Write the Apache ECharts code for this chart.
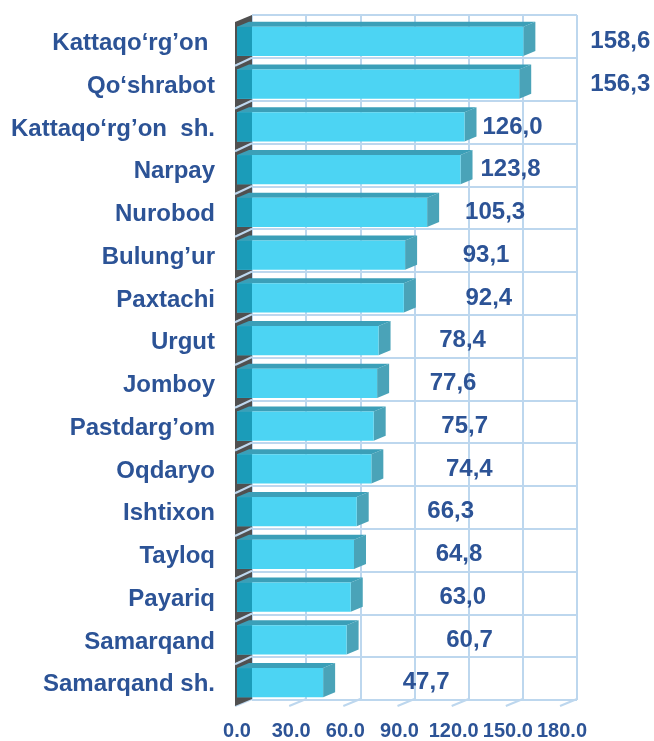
<!DOCTYPE html>
<html>
<head>
<meta charset="utf-8">
<script src="https://cdn.jsdelivr.net/npm/echarts@6/dist/echarts.min.js"></script>
<style>
    html, body { margin: 0; padding: 0; background: #fff; }
    #main { width: 654px; height: 741px; }
</style>
</head>
<body>
<div id="main"></div>
<script>
// tumanlar (yuqoridan pastga)
var districts = ['Kattaqo‘rg’on ', 'Qo‘shrabot', 'Kattaqo‘rg’on  sh.', 'Narpay', 'Nurobod', 'Bulung’ur',
    'Paxtachi', 'Urgut', 'Jomboy', 'Pastdarg’om', 'Oqdaryo', 'Ishtixon', 'Tayloq', 'Payariq',
    'Samarqand', 'Samarqand sh.']
var values = [158.6, 156.3, 126.0, 123.8, 105.3, 93.1, 92.4, 78.4, 77.6, 75.7, 74.4, 66.3, 64.8, 63.0, 60.7, 47.7]
var ticks = [0, 30, 60, 90, 120, 150, 180]
// label shift right of bar end, px (labels were moved by hand in the original)
var labelShift = [97, 101, 48, 50, 68, 81, 85, 84, 76, 91, 98, 94, 105, 112, 123, 103]

var textColor = '#2c5396'
var gridColor = '#bdd7ee'
var font = "'Liberation Sans', Arial, sans-serif"
var dx = 15, dy = 7   // depth of the 3d box

var chart = echarts.init(document.getElementById('main'))

function renderBar(params, api) {
    var i = api.value(1)
    var v = api.value(0)
    var p0 = api.coord([0, i])
    var p1 = api.coord([v, i])
    var band = api.size([0, 1])[1]
    var x0 = p0[0], x1 = p1[0]
    var rowTop = p0[1] - band / 2, rowBot = p0[1] + band / 2
    var h = band * 0.68
    var ft = p0[1] - 2 - h / 2, fb = ft + h
    var bd = 12, bh = 5
    var kids = [
        // left wall
        { type: 'polygon', shape: { points: [[x0 - 2, rowTop], [x0 + dx, rowTop - dy], [x0 + dx, rowBot - dy], [x0 - 2, rowBot]] },
          style: { fill: '#505050' } },
        // side face
        { type: 'polygon', shape: { points: [[x1, ft], [x1 + bd, ft - bh], [x1 + bd, fb - bh], [x1, fb]] },
          style: { fill: '#4aa3b8' } },
        // top face
        { type: 'polygon', shape: { points: [[x0, ft], [x1, ft], [x1 + bd, ft - bh], [x0 + bd, ft - bh]] },
          style: { fill: '#3b9fb8' } },
        // front face
        { type: 'rect', shape: { x: x0, y: ft, width: x1 - x0, height: h }, style: { fill: '#4cd4f3' } },
        { type: 'rect', shape: { x: x0, y: ft, width: dx, height: h }, style: { fill: '#1b9cb9' } },
        { type: 'text', style: {
            text: v.toFixed(1).replace('.', ','), x: x1 + labelShift[i], y: p0[1] - 2,
            fill: textColor, font: 'bold 24px ' + font, align: 'center', verticalAlign: 'middle' } }
    ]
    if (i > 0) {
        kids.push({ type: 'line', shape: { x1: x0 - 2, y1: rowTop + 1, x2: x0 + dx, y2: rowTop - dy },
            style: { stroke: gridColor, lineWidth: 2 } })
    }
    return { type: 'group', children: kids }
}

function renderFloor(params, api) {
    var p = api.coord([api.value(0), districts.length - 1])
    var band = api.size([0, 1])[1]
    var y = p[1] + band / 2
    return { type: 'line', shape: { x1: p[0] - 2, y1: y, x2: p[0] + dx, y2: y - dy },
        style: { stroke: gridColor, lineWidth: 2 } }
}

chart.setOption({
    animation: false,
    grid: [
        { left: 252, width: 325, top: 15, height: 685 },   // back wall
        { left: 237, width: 325, top: 22, height: 685 }    // front plane
    ],
    xAxis: [
        { gridIndex: 0, type: 'value', min: 0, max: 180, interval: 30,
          axisLine: { show: false }, axisTick: { show: false }, axisLabel: { show: false },
          splitLine: { show: true, lineStyle: { color: gridColor, width: 2 } } },
        { gridIndex: 1, type: 'value', min: 0, max: 180, interval: 30,
          axisLine: { show: false }, axisTick: { show: false }, splitLine: { show: false },
          axisLabel: { margin: 15, color: textColor, fontWeight: 'bold', fontSize: 20, fontFamily: font,
              formatter: function (v) { return v.toFixed(1) } } }
    ],
    yAxis: [
        { gridIndex: 0, type: 'category', data: districts, inverse: true,
          axisLine: { show: false }, axisTick: { show: false }, axisLabel: { show: false },
          splitLine: { show: true, lineStyle: { color: gridColor, width: 2 } } },
        { gridIndex: 1, type: 'category', data: districts, inverse: true,
          axisLine: { show: false }, axisTick: { show: false }, splitLine: { show: false },
          axisLabel: { margin: 22, color: textColor, fontWeight: 'bold', fontSize: 24, fontFamily: font } }
    ],
    series: [
        { type: 'custom', xAxisIndex: 1, yAxisIndex: 1, renderItem: renderFloor,
          data: ticks.map(function (t) { return [t] }), encode: { x: 0 }, silent: true },
        { type: 'custom', xAxisIndex: 1, yAxisIndex: 1, renderItem: renderBar,
          data: values.map(function (v, i) { return [v, i] }), encode: { x: 0, y: 1 } }
    ]
})
</script>
</body>
</html>
